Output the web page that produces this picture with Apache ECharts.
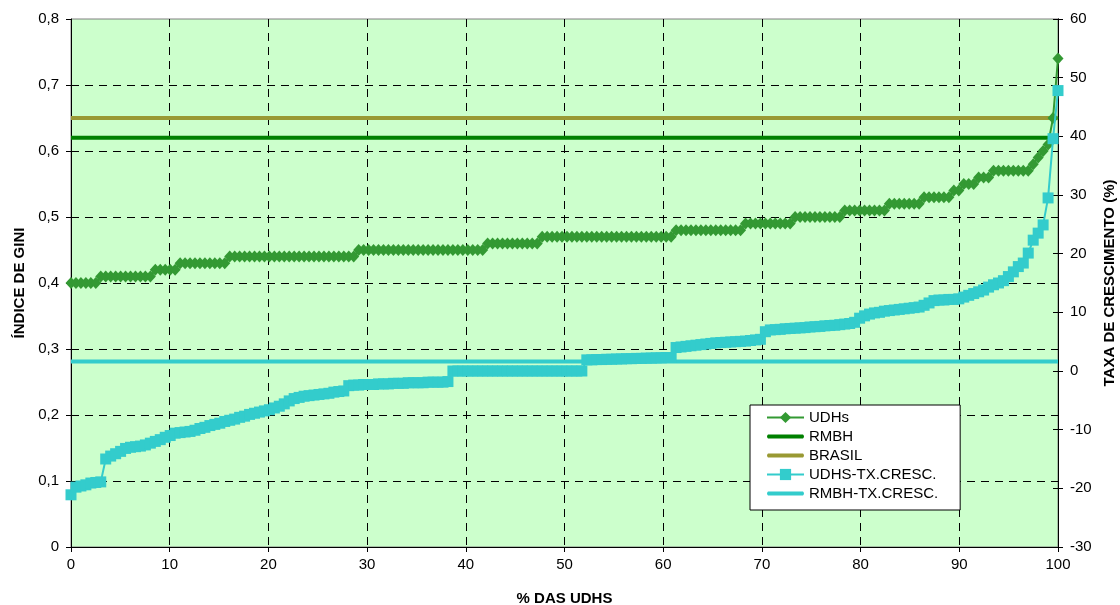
<!DOCTYPE html>
<html>
<head>
<meta charset="utf-8">
<script src="https://cdn.jsdelivr.net/npm/echarts@6/dist/echarts.min.js"></script>
<style>
html,body{margin:0;padding:0;background:#fff;}
#chart{width:1120px;height:605px;}
</style>
</head>
<body>
<div id="chart"></div>
<script>
// Gini index of each UDH, sorted (left axis)
const udhsGini = [
  0.40,0.40,0.40,0.40,0.40,0.40,
  0.41,0.41,0.41,0.41,0.41,0.41,0.41,0.41,0.41,0.41,0.41,
  0.42,0.42,0.42,0.42,0.42,
  0.43,0.43,0.43,0.43,0.43,0.43,0.43,0.43,0.43,0.43,
  0.44,0.44,0.44,0.44,0.44,0.44,0.44,0.44,0.44,0.44,0.44,0.44,0.44,0.44,0.44,0.44,0.44,0.44,0.44,0.44,0.44,0.44,0.44,0.44,0.44,0.44,
  0.45,0.45,0.45,0.45,0.45,0.45,0.45,0.45,0.45,0.45,0.45,0.45,0.45,0.45,0.45,0.45,0.45,0.45,0.45,0.45,0.45,0.45,0.45,0.45,0.45,0.45,
  0.46,0.46,0.46,0.46,0.46,0.46,0.46,0.46,0.46,0.46,0.46,
  0.47,0.47,0.47,0.47,0.47,0.47,0.47,0.47,0.47,0.47,0.47,0.47,0.47,0.47,0.47,0.47,0.47,0.47,0.47,0.47,0.47,0.47,0.47,0.47,0.47,0.47,0.47,
  0.48,0.48,0.48,0.48,0.48,0.48,0.48,0.48,0.48,0.48,0.48,0.48,0.48,0.48,
  0.49,0.49,0.49,0.49,0.49,0.49,0.49,0.49,0.49,0.49,
  0.50,0.50,0.50,0.50,0.50,0.50,0.50,0.50,0.50,0.50,
  0.51,0.51,0.51,0.51,0.51,0.51,0.51,0.51,0.51,
  0.52,0.52,0.52,0.52,0.52,0.52,0.52,
  0.53,0.53,0.53,0.53,0.53,0.53,
  0.54,0.54,
  0.55,0.55,0.55,
  0.56,0.56,0.56,
  0.57,0.57,0.57,0.57,0.57,0.57,0.57,0.57,
  0.58,0.59,0.60,0.61,0.65,0.74
];
// Growth rate of each UDH, sorted (right axis, %)
const udhsTx = [
  -21.1,-19.8,-19.6,-19.4,-19.1,-19.0,-18.9,-15.0,-14.5,-14.1,
  -13.7,-13.2,-13.0,-12.9,-12.8,-12.6,-12.3,-12.0,-11.7,-11.3,
  -11.0,-10.6,-10.5,-10.4,-10.3,-10.1,-9.8,-9.6,-9.3,-9.1,
  -8.9,-8.6,-8.4,-8.2,-7.9,-7.7,-7.4,-7.2,-7.0,-6.8,
  -6.6,-6.3,-6.0,-5.6,-5.1,-4.7,-4.5,-4.3,-4.2,-4.1,
  -4.0,-3.9,-3.8,-3.6,-3.5,-3.4,-2.5,-2.4,-2.4,-2.3,
  -2.3,-2.3,-2.2,-2.2,-2.2,-2.1,-2.1,-2.1,-2.0,-2.0,
  -2.0,-2.0,-1.9,-1.9,-1.9,-1.9,-1.8,0.0,0.0,0.0,
  0.0,0.0,0.0,0.0,0.0,0.0,0.0,0.0,0.0,0.0,
  0.0,0.0,0.0,0.0,0.0,0.0,0.0,0.0,0.0,0.0,
  0.0,0.0,0.0,0.0,1.9,1.9,1.95,1.95,2.0,2.0,
  2.05,2.05,2.1,2.1,2.15,2.15,2.2,2.2,2.25,2.25,
  2.3,2.3,4.0,4.1,4.2,4.3,4.4,4.5,4.6,4.7,
  4.8,4.85,4.9,4.95,5.0,5.05,5.1,5.2,5.3,5.4,
  6.7,7.0,7.05,7.1,7.2,7.25,7.3,7.35,7.4,7.5,
  7.55,7.6,7.7,7.75,7.8,7.9,8.0,8.1,8.3,9.0,
  9.4,9.7,9.9,10.0,10.2,10.3,10.4,10.5,10.6,10.7,
  10.8,10.9,11.2,11.6,12.0,12.1,12.1,12.2,12.2,12.3,
  12.6,12.9,13.2,13.5,13.8,14.3,14.7,15.0,15.4,16.1,
  16.9,17.8,18.4,20.1,22.3,23.5,24.9,29.5,39.6,47.8
];
const rmbhGini = 0.62;
const brasilGini = 0.65;
const rmbhTx = 1.6;
const xRange = [0, 100];
const seriesNames = ['UDHs','RMBH','BRASIL','UDHS-TX.CRESC.','RMBH-TX.CRESC.'];

function toPoints(arr){
  const n = arr.length;
  return arr.map((v,i)=>[i*100/(n-1), v]);
}
const FONT = 'Liberation Sans, Arial, Helvetica, sans-serif';
const LINE_ICON = 'path://M0,0M37,14M1,5L36,5Q38,7 36,9L1,9Q-1,7 1,5Z';
const chart = echarts.init(document.getElementById('chart'), null, {renderer:'canvas'});
const dash = {color:'#000', type:[8,6], width:1};
const option = {
  animation:false,
  backgroundColor:'#ffffff',
  textStyle:{fontFamily:FONT, color:'#000'},
  grid:{left:71,right:62,top:19,bottom:58,show:true,outerBoundsMode:'none',containLabel:false,
        backgroundColor:'#ccffcc',borderColor:'#808080',borderWidth:1},
  legend:{
    orient:'vertical', left:750, top:405,
    backgroundColor:'#ffffff', borderColor:'#000', borderWidth:1,
    padding:[5,22,9,16], itemWidth:37, itemHeight:14, itemGap:4,
    textStyle:{fontSize:15,lineHeight:14,color:'#000',fontFamily:FONT},
    data:[
      {name:seriesNames[0]},
      {name:seriesNames[1], icon:LINE_ICON},
      {name:seriesNames[2], icon:LINE_ICON},
      {name:seriesNames[3]},
      {name:seriesNames[4], icon:LINE_ICON}
    ]
  },
  xAxis:{
    type:'value', min:xRange[0], max:xRange[1], interval:10,
    name:'% DAS UDHS', nameLocation:'middle', nameGap:44,
    nameTextStyle:{fontWeight:'bold',fontSize:15,color:'#000',fontFamily:FONT},
    axisLine:{show:true,lineStyle:{color:'#000',width:1}},
    axisTick:{show:true,length:5,lineStyle:{color:'#000'}},
    axisLabel:{fontSize:15,color:'#000',margin:10,fontFamily:FONT},
    splitLine:{show:true,showMinLine:false,showMaxLine:false,lineStyle:dash}
  },
  yAxis:[
    {
      type:'value', min:0, max:0.8, interval:0.1, position:'left',
      name:'ÍNDICE DE GINI', nameLocation:'middle', nameRotate:90, nameGap:44,
      nameTextStyle:{fontWeight:'bold',fontSize:15,color:'#000',fontFamily:FONT},
      axisLine:{show:true,lineStyle:{color:'#000',width:1}},
      axisTick:{show:true,length:5,lineStyle:{color:'#000'}},
      axisLabel:{fontSize:15,color:'#000',margin:12,fontFamily:FONT,
        formatter:v=> v===0 ? '0' : v.toFixed(1).replace('.',',')},
      splitLine:{show:true,showMinLine:false,showMaxLine:false,lineStyle:dash}
    },
    {
      type:'value', min:-30, max:60, interval:10, position:'right',
      name:'TAXA DE CRESCIMENTO (%)', nameLocation:'middle', nameRotate:90, nameGap:42,
      nameTextStyle:{fontWeight:'bold',fontSize:15,color:'#000',fontFamily:FONT},
      axisLine:{show:true,lineStyle:{color:'#000',width:1}},
      axisTick:{show:true,length:5,lineStyle:{color:'#000'}},
      axisLabel:{fontSize:15,color:'#000',margin:12,fontFamily:FONT},
      splitLine:{show:false}
    },
    {
      type:'value', min:-30, max:60, interval:10, position:'right',
      axisLine:{show:true,lineStyle:{color:'#000',width:1}},
      axisTick:{show:true,inside:true,length:5,lineStyle:{color:'#000'}},
      axisLabel:{show:false},
      splitLine:{show:false}
    }
  ],
  series:[
    {
      name:seriesNames[0], type:'line', yAxisIndex:0, data:toPoints(udhsGini),
      symbol:'diamond', symbolSize:[11,12],
      lineStyle:{color:'#339933',width:2}, itemStyle:{color:'#339933'}, z:3
    },
    {
      name:seriesNames[1], type:'line', yAxisIndex:0,
      data:[[xRange[0],rmbhGini],[xRange[1],rmbhGini]],
      symbol:'none', lineStyle:{color:'#008000',width:4}, itemStyle:{color:'#008000'}, z:2
    },
    {
      name:seriesNames[2], type:'line', yAxisIndex:0,
      data:[[xRange[0],brasilGini],[xRange[1],brasilGini]],
      symbol:'none', lineStyle:{color:'#999933',width:4}, itemStyle:{color:'#999933'}, z:2
    },
    {
      name:seriesNames[3], type:'line', yAxisIndex:1, data:toPoints(udhsTx),
      symbol:'rect', symbolSize:11,
      lineStyle:{color:'#33cccc',width:2}, itemStyle:{color:'#33cccc'}, z:4
    },
    {
      name:seriesNames[4], type:'line', yAxisIndex:1,
      data:[[xRange[0],rmbhTx],[xRange[1],rmbhTx]],
      symbol:'none', lineStyle:{color:'#33cccc',width:4}, itemStyle:{color:'#33cccc'}, z:2
    }
  ]
};
chart.setOption(option);
</script>
</body>
</html>
